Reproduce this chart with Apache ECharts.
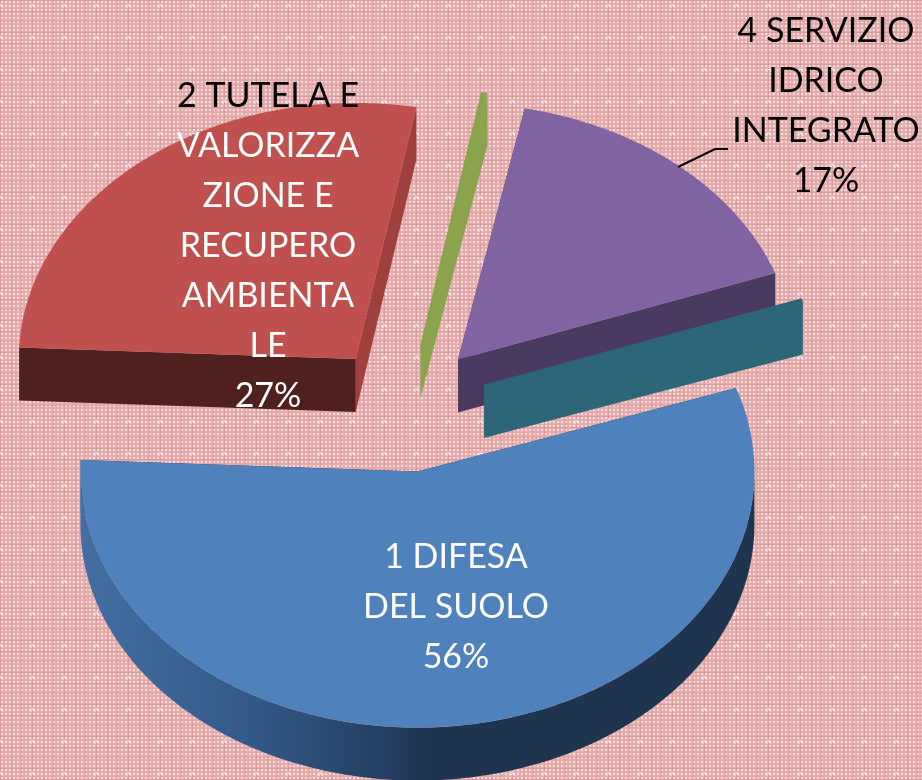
<!DOCTYPE html>
<html>
<head>
<meta charset="utf-8">
<style>html,body{margin:0;padding:0}#main{width:922px;height:780px}</style>
<script src="https://cdn.jsdelivr.net/npm/echarts@6/dist/echarts.min.js"></script>
</head>
<body>
<div id="main"></div>
<script>
// values, slices 3 and 5 have no label (close to 0%)
var sliceNames = ['1 DIFESA DEL SUOLO', '2 TUTELA E VALORIZZAZIONE E RECUPERO AMBIENTALE', '3', '4 SERVIZIO IDRICO INTEGRATO', '5'];
var sliceValues = [56.5, 27.4, 0.3, 16.5, 0.2];
var sliceLabels = [
  '1 DIFESA\nDEL SUOLO\n56%',
  '{k|2 TUTELA E}\nVALORIZZA\nZIONE E\nRECUPERO\nAMBIENTA\nLE\n27%',
  '',
  '4 SERVIZIO\nIDRICO\nINTEGRATO\n17%',
  ''
];

// look of the slices
var topColors = ['#4f81bd', '#c0504d', '#8aa34c', '#8064a2', '#2c6678'];
var startWallColors = ['#1f344e', '#50201e', '#8aa34c', '#4a3a60', '#2c6678'];
var endWallColors = ['#1f344e', '#a0403d', '#8aa34c', '#4a3a60', '#2c6678'];
var labelColors = ['#fff', '#fff', '#000', '#000', '#000'];
var explodeBy = [87, 79, 83, 81, 84];
var labelCenters = [[456, 607], [268, 246], [0, 0], [826, 106], [0, 0]];

// projection of the tilted pie
var pieCx = 405, pieCy = 406, radius = 337, tilt = 0.76, depth = 53, firstAngle = 71;
var total = sliceValues.reduce(function (a, b) { return a + b; }, 0);

function edge(c, deg, dy) {
  var a = deg * Math.PI / 180;
  return [c[0] + radius * Math.sin(a), c[1] - radius * tilt * Math.cos(a) + (dy || 0)];
}
function arc(c, from, to, dy) {
  var pts = [];
  var n = Math.max(2, Math.ceil(Math.abs(to - from)));
  for (var i = 0; i <= n; i++) pts.push(edge(c, from + (to - from) * i / n, dy));
  return pts;
}
function wall(c, deg, color) {
  var p = edge(c, deg);
  return {
    type: 'polygon',
    shape: { points: [c, p, [p[0], p[1] + depth], [c[0], c[1] + depth]] },
    style: { fill: color }
  };
}

// background tile, a fine check with small white crosses
function makeTile() {
  var t = document.createElement('canvas');
  t.width = 32; t.height = 32;
  var g = t.getContext('2d');
  g.fillStyle = '#e8abab';
  g.fillRect(0, 0, 32, 32);
  g.fillStyle = '#f6dcdc';
  for (var x = 0; x < 32; x += 4) {
    for (var y = 0; y < 32; y += 4) g.fillRect(x + 1, y + 1, 2, 2);
  }
  g.fillStyle = 'rgba(214,130,130,0.4)';
  [0, 11, 21].forEach(function (p) {
    g.fillRect(p, 0, 1, 32);
    g.fillRect(0, p, 32, 1);
  });
  g.fillStyle = '#fdf2f2';
  [[0, 5], [1, 4], [2, 3], [3, 4], [4, 5], [1, 6], [3, 6], [0, 7], [4, 7], [2, 5]].forEach(function (s) {
    g.fillRect(s[0] + 30, s[1], 1, 1);
    g.fillRect(s[0] - 2, s[1], 1, 1);
  });
  return t;
}

var chart = echarts.init(document.getElementById('main'), null, { renderer: 'canvas' });

function renderSlice(params, api) {
  var i = params.dataIndex;
  var from = firstAngle;
  for (var k = 0; k < i; k++) from += sliceValues[k] / total * 360;
  var to = from + api.value(1) / total * 360;
  var mid = (from + to) / 2 * Math.PI / 180;
  var c = [pieCx + explodeBy[i] * Math.sin(mid), pieCy - explodeBy[i] * tilt * Math.cos(mid)];

  var children = [wall(c, from, startWallColors[i]), wall(c, to, endWallColors[i])];

  // outer rim only where it faces the viewer
  var rimFrom = Math.max(from, 90), rimTo = Math.min(to, 270);
  if (rimTo > rimFrom) {
    children.push({
      type: 'polygon',
      shape: { points: arc(c, rimFrom, rimTo, 0).concat(arc(c, rimTo, rimFrom, depth)) },
      style: {
        fill: new echarts.graphic.LinearGradient(0, 0, 1, 0, [
          { offset: 0, color: '#436fa4' },
          { offset: 0.25, color: '#335a88' },
          { offset: 0.46, color: '#233e60' },
          { offset: 0.52, color: '#1f344e' },
          { offset: 1, color: '#1f344e' }
        ])
      }
    });
  }
  children.push({
    type: 'polygon',
    shape: { points: [c].concat(arc(c, from, to, 0)) },
    style: { fill: topColors[i] }
  });
  if (i === 3) {
    children.push({
      type: 'polyline',
      shape: { points: [[678, 167], [715, 149], [728, 149]] },
      style: { stroke: '#000', lineWidth: 2, fill: null }
    });
  }
  if (sliceLabels[i]) {
    children.push({
      type: 'text',
      z2: 10,
      style: {
        x: labelCenters[i][0],
        y: labelCenters[i][1],
        text: sliceLabels[i],
        fill: labelColors[i],
        font: '34px Lato',
        lineHeight: 50,
        align: 'center',
        verticalAlign: 'middle',
        rich: { k: { fill: '#000', font: '34px Lato', lineHeight: 50 } }
      }
    });
  }
  return { type: 'group', children: children };
}

chart.setOption({
  backgroundColor: { image: makeTile(), repeat: 'repeat' },
  animation: false,
  series: [{
    type: 'custom',
    coordinateSystem: 'none',
    renderItem: renderSlice,
    silent: true,
    data: sliceNames.map(function (n, i) { return { name: n, value: [i, sliceValues[i]] }; })
  }]
});
</script>
</body>
</html>
